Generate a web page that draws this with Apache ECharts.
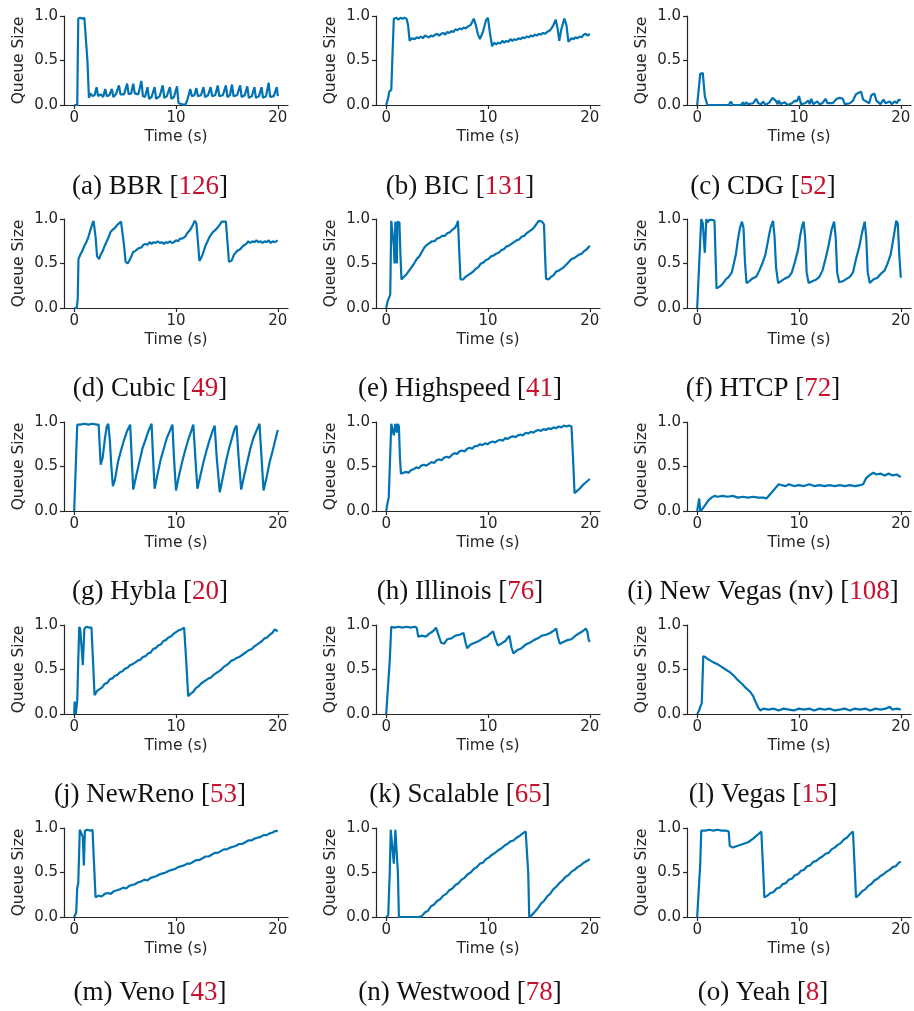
<!DOCTYPE html>
<html>
<head>
<meta charset="utf-8">
<script src="https://cdn.jsdelivr.net/npm/echarts@6/dist/echarts.min.js"></script>
<style>
html,body{margin:0;padding:0;background:#fff;}
#chart{width:914px;height:1011px;}
</style>
</head>
<body>
<div id="chart"></div>
<script>
// ---- data (time in s, normalized queue size) ----
const captions = ['(a) BBR','(b) BIC','(c) CDG','(d) Cubic','(e) Highspeed','(f) HTCP','(g) Hybla','(h) Illinois','(i) New Vegas (nv)','(j) NewReno','(k) Scalable','(l) Vegas','(m) Veno','(n) Westwood','(o) Yeah'];
const refs = ['126','131','52','49','41','72','20','76','108','53','65','15','43','78','8'];
const xTicks = [0, 10, 20];
const yTicks = [0, 0.5, 1];

const bbr = [[0,0],[0.3,0],[0.4,0.97],[0.6,0.98],[0.8,0.97],[1.0,0.98],[1.15,0.98],[1.3,0.5],[1.45,0.08],[1.6,0.13],[1.8,0.1],[2.0,0.11],[2.2,0.2],[2.35,0.1],[2.6,0.12],[2.85,0.09],[3.05,0.18],[3.2,0.1],[3.45,0.11],[3.7,0.18],[3.85,0.09],[4.1,0.12],[4.4,0.22],[4.55,0.12],[4.9,0.12],[5.2,0.24],[5.35,0.12],[5.6,0.13],[5.8,0.24],[5.95,0.13],[6.3,0.12],[6.6,0.27],[6.75,0.1],[6.95,0.09],[7.2,0.2],[7.35,0.07],[7.6,0.09],[7.9,0.2],[8.05,0.07],[8.4,0.1],[8.7,0.22],[8.85,0.08],[9.1,0.1],[9.4,0.2],[9.55,0.07],[9.8,0.09],[10.1,0.21],[10.25,0.02],[10.4,0.0],[10.9,0.0],[11.1,0.05],[11.4,0.18],[11.55,0.1],[11.8,0.11],[12.0,0.19],[12.15,0.1],[12.45,0.11],[12.7,0.2],[12.85,0.09],[13.15,0.11],[13.4,0.2],[13.55,0.1],[13.85,0.11],[14.1,0.22],[14.25,0.1],[14.6,0.11],[14.9,0.22],[15.05,0.09],[15.3,0.11],[15.5,0.23],[15.65,0.1],[16.0,0.11],[16.3,0.22],[16.45,0.09],[16.75,0.11],[17.0,0.21],[17.15,0.08],[17.45,0.1],[17.7,0.2],[17.85,0.08],[18.15,0.1],[18.4,0.2],[18.55,0.08],[18.85,0.1],[19.1,0.25],[19.25,0.09],[19.6,0.1],[19.9,0.2],[20.0,0.1]];
const bic = [[0,0],[0.2,0.08],[0.3,0.15],[0.5,0.17],[0.6,0.5],[0.75,0.97],[0.9,0.95],[1.0,0.98],[1.2,0.96],[1.4,0.98],[1.6,0.97],[1.8,0.98],[2.0,0.97],[2.15,0.9],[2.3,0.72],[2.5,0.75],[2.8,0.74],[3.0,0.76],[3.2,0.75],[3.4,0.77],[3.6,0.75],[3.8,0.78],[4.0,0.77],[4.2,0.76],[4.4,0.78],[4.6,0.77],[4.8,0.79],[5.0,0.8],[5.2,0.78],[5.4,0.8],[5.6,0.81],[5.8,0.79],[6.0,0.82],[6.2,0.81],[6.4,0.83],[6.6,0.82],[6.8,0.85],[7.0,0.84],[7.2,0.86],[7.4,0.85],[7.6,0.87],[7.8,0.86],[8.0,0.88],[8.3,0.9],[8.6,0.97],[8.8,0.9],[9.0,0.8],[9.2,0.74],[9.5,0.82],[9.8,0.95],[10.0,0.98],[10.2,0.8],[10.4,0.66],[10.6,0.7],[10.8,0.68],[11.0,0.7],[11.2,0.69],[11.4,0.72],[11.6,0.7],[11.8,0.72],[12.0,0.71],[12.2,0.74],[12.4,0.72],[12.6,0.74],[12.8,0.73],[13.0,0.75],[13.2,0.74],[13.4,0.76],[13.6,0.75],[13.8,0.77],[14.0,0.76],[14.2,0.78],[14.4,0.77],[14.6,0.79],[14.8,0.78],[15.0,0.8],[15.2,0.79],[15.4,0.81],[15.6,0.8],[15.8,0.82],[16.1,0.84],[16.4,0.89],[16.65,0.96],[16.85,0.85],[17.0,0.72],[17.2,0.85],[17.5,0.97],[17.7,0.9],[17.9,0.71],[18.2,0.75],[18.4,0.74],[18.6,0.76],[18.8,0.75],[19.0,0.77],[19.2,0.76],[19.4,0.79],[19.6,0.8],[19.8,0.78],[20.0,0.8]];
const cdg = [[0,0],[0.15,0],[0.3,0.35],[0.55,0.36],[0.75,0.1],[1.0,0],[3.1,0],[3.3,0.04],[3.5,0],[4.3,0],[4.5,0.03],[4.65,0],[4.8,0.03],[5.0,0.01],[5.5,0.02],[5.8,0.07],[6.0,0.02],[6.3,0.01],[6.5,0.04],[6.7,0],[7.1,0.03],[7.4,0.08],[7.7,0.05],[7.9,0.01],[8.0,0.05],[8.2,0.01],[8.6,0.03],[8.9,0],[9.3,0.02],[9.6,0.05],[9.8,0.04],[10.0,0.1],[10.2,0.01],[10.6,0.02],[10.9,0.05],[11.05,0.01],[11.2,0.07],[11.4,0.01],[11.8,0.04],[12.0,0.01],[12.3,0.02],[12.6,0.07],[12.8,0.02],[13.3,0.02],[13.7,0.07],[14.0,0.08],[14.3,0.07],[14.5,0.01],[15.0,0.02],[15.3,0.05],[15.6,0.12],[15.9,0.14],[16.1,0.15],[16.3,0.06],[16.6,0.04],[16.9,0.02],[17.1,0.11],[17.4,0.13],[17.6,0.05],[17.8,0.03],[18.0,0.01],[18.3,0.06],[18.5,0.02],[18.9,0.04],[19.1,0.01],[19.4,0.04],[19.6,0.02],[19.8,0.06],[20.0,0.05]];
const cubic = [[0,0],[0.25,0],[0.35,0.1],[0.42,0.55],[0.6,0.6],[0.8,0.64],[1.0,0.7],[1.2,0.74],[1.4,0.8],[1.6,0.88],[1.8,0.95],[1.9,0.98],[2.0,0.97],[2.1,0.8],[2.25,0.58],[2.45,0.55],[2.6,0.6],[2.8,0.64],[3.0,0.7],[3.2,0.75],[3.4,0.8],[3.6,0.86],[3.8,0.88],[4.0,0.9],[4.2,0.93],[4.4,0.95],[4.6,0.97],[4.75,0.96],[4.9,0.7],[5.05,0.52],[5.25,0.5],[5.5,0.55],[5.8,0.63],[6.0,0.64],[6.3,0.67],[6.6,0.68],[6.8,0.71],[7.0,0.72],[7.2,0.71],[7.4,0.74],[7.6,0.72],[7.8,0.74],[8.0,0.73],[8.2,0.75],[8.4,0.73],[8.6,0.74],[8.8,0.72],[9.0,0.74],[9.2,0.73],[9.4,0.75],[9.6,0.73],[9.8,0.74],[10.0,0.76],[10.2,0.75],[10.4,0.78],[10.6,0.78],[10.9,0.8],[11.1,0.84],[11.4,0.88],[11.6,0.92],[11.85,0.98],[12.0,0.95],[12.15,0.75],[12.3,0.53],[12.5,0.57],[12.7,0.63],[12.9,0.7],[13.1,0.75],[13.3,0.8],[13.6,0.85],[13.9,0.88],[14.2,0.92],[14.5,0.97],[14.9,0.97],[15.05,0.75],[15.2,0.52],[15.45,0.53],[15.7,0.6],[16.0,0.64],[16.3,0.66],[16.6,0.7],[16.9,0.72],[17.1,0.75],[17.3,0.73],[17.5,0.75],[17.7,0.74],[17.9,0.76],[18.1,0.74],[18.3,0.75],[18.5,0.73],[18.7,0.75],[18.9,0.74],[19.1,0.76],[19.3,0.73],[19.5,0.75],[19.7,0.74],[20.0,0.76]];
const highspeed = [[0,0],[0.15,0.08],[0.3,0.12],[0.4,0.15],[0.5,0.98],[0.6,0.97],[0.75,0.7],[0.82,0.5],[0.9,0.97],[1.0,0.95],[1.05,0.5],[1.1,0.97],[1.2,0.97],[1.3,0.96],[1.4,0.6],[1.5,0.32],[1.75,0.35],[2.0,0.38],[2.25,0.42],[2.5,0.46],[2.75,0.5],[3.0,0.55],[3.25,0.58],[3.5,0.63],[3.75,0.68],[4.0,0.71],[4.25,0.73],[4.5,0.75],[4.75,0.75],[5.0,0.78],[5.25,0.79],[5.5,0.81],[5.75,0.81],[6.0,0.84],[6.25,0.85],[6.5,0.88],[6.75,0.9],[6.95,0.94],[7.05,0.98],[7.15,0.7],[7.3,0.32],[7.55,0.32],[7.8,0.35],[8.05,0.37],[8.3,0.39],[8.55,0.41],[8.8,0.44],[9.05,0.46],[9.3,0.5],[9.55,0.51],[9.8,0.54],[10.05,0.55],[10.3,0.58],[10.55,0.59],[10.8,0.61],[11.05,0.62],[11.3,0.65],[11.55,0.66],[11.8,0.69],[12.05,0.7],[12.3,0.72],[12.55,0.74],[12.8,0.76],[13.05,0.77],[13.3,0.8],[13.55,0.81],[13.8,0.84],[14.05,0.86],[14.3,0.88],[14.55,0.91],[14.8,0.95],[15.0,0.98],[15.3,0.97],[15.5,0.94],[15.6,0.6],[15.7,0.33],[15.95,0.32],[16.2,0.35],[16.45,0.37],[16.7,0.41],[16.95,0.42],[17.2,0.44],[17.45,0.46],[17.7,0.49],[17.95,0.52],[18.2,0.55],[18.45,0.56],[18.7,0.58],[18.95,0.6],[19.2,0.61],[19.45,0.64],[19.7,0.66],[20.0,0.7]];
const htcp = [[0,0],[0.1,0.02],[0.4,1.0],[0.55,0.95],[0.75,0.62],[0.9,1.0],[1.0,0.96],[1.2,0.99],[1.5,0.99],[1.7,0.98],[1.8,0.6],[1.9,0.22],[2.2,0.24],[2.5,0.27],[2.8,0.32],[3.1,0.35],[3.4,0.4],[3.6,0.5],[3.8,0.6],[4.0,0.77],[4.2,0.9],[4.4,0.97],[4.55,0.9],[4.7,0.5],[4.85,0.28],[5.1,0.3],[5.4,0.33],[5.8,0.35],[6.1,0.42],[6.4,0.5],[6.7,0.6],[7.0,0.78],[7.2,0.9],[7.45,0.98],[7.6,0.8],[7.75,0.45],[7.95,0.28],[8.2,0.3],[8.6,0.33],[9.0,0.35],[9.3,0.4],[9.6,0.52],[9.9,0.65],[10.1,0.8],[10.3,0.92],[10.45,0.97],[10.6,0.8],[10.75,0.4],[10.95,0.28],[11.3,0.3],[11.7,0.32],[12.0,0.35],[12.3,0.42],[12.6,0.55],[12.9,0.7],[13.2,0.88],[13.45,0.97],[13.6,0.8],[13.75,0.4],[13.95,0.29],[14.3,0.3],[14.7,0.33],[15.0,0.35],[15.3,0.4],[15.6,0.55],[15.9,0.68],[16.2,0.85],[16.45,0.97],[16.6,0.8],[16.75,0.4],[16.95,0.28],[17.3,0.32],[17.7,0.34],[18.0,0.38],[18.4,0.42],[18.7,0.5],[19.0,0.6],[19.3,0.8],[19.55,0.98],[19.7,0.95],[19.85,0.6],[20.0,0.34]];
const hybla = [[0,0],[0.3,0.97],[0.6,0.97],[1.0,0.98],[1.4,0.97],[1.8,0.98],[2.2,0.97],[2.4,0.97],[2.5,0.75],[2.6,0.52],[2.8,0.6],[3.0,0.8],[3.2,0.95],[3.35,0.98],[3.5,0.8],[3.65,0.5],[3.8,0.28],[4.0,0.35],[4.3,0.55],[4.6,0.68],[4.9,0.8],[5.2,0.9],[5.5,0.97],[5.65,0.6],[5.8,0.24],[6.1,0.4],[6.4,0.55],[6.7,0.7],[7.0,0.8],[7.3,0.9],[7.6,0.98],[7.75,0.6],[7.9,0.25],[8.2,0.42],[8.5,0.58],[8.8,0.7],[9.1,0.82],[9.4,0.9],[9.65,0.97],[9.8,0.6],[10.0,0.23],[10.3,0.4],[10.6,0.55],[10.9,0.68],[11.2,0.8],[11.5,0.9],[11.7,0.97],[11.9,0.6],[12.1,0.25],[12.4,0.4],[12.7,0.55],[13.0,0.68],[13.3,0.8],[13.6,0.9],[13.8,0.96],[14.0,0.6],[14.3,0.21],[14.6,0.38],[14.9,0.55],[15.2,0.7],[15.5,0.82],[15.75,0.92],[15.95,0.96],[16.15,0.6],[16.4,0.24],[16.7,0.4],[17.0,0.55],[17.3,0.7],[17.6,0.82],[17.9,0.9],[18.2,0.98],[18.4,0.6],[18.6,0.23],[18.9,0.38],[19.2,0.55],[19.5,0.68],[19.8,0.82],[20.0,0.91]];
const illinois = [[0,0],[0.15,0.1],[0.25,0.15],[0.4,0.17],[0.5,0.98],[0.6,0.97],[0.75,0.85],[0.9,0.98],[1.0,0.96],[1.05,0.88],[1.15,0.98],[1.25,0.95],[1.35,0.6],[1.45,0.42],[1.7,0.43],[1.95,0.44],[2.2,0.43],[2.45,0.46],[2.7,0.47],[2.95,0.49],[3.2,0.48],[3.45,0.51],[3.7,0.52],[3.95,0.51],[4.2,0.53],[4.45,0.55],[4.7,0.54],[4.95,0.57],[5.2,0.58],[5.45,0.57],[5.7,0.6],[5.95,0.61],[6.2,0.6],[6.45,0.63],[6.7,0.65],[6.95,0.64],[7.2,0.67],[7.45,0.68],[7.7,0.67],[7.95,0.7],[8.2,0.71],[8.45,0.7],[8.7,0.73],[8.95,0.73],[9.2,0.75],[9.45,0.74],[9.7,0.76],[9.95,0.75],[10.2,0.77],[10.45,0.78],[10.7,0.77],[10.95,0.79],[11.2,0.8],[11.45,0.79],[11.7,0.82],[11.95,0.81],[12.2,0.83],[12.45,0.84],[12.7,0.83],[12.95,0.85],[13.2,0.86],[13.45,0.85],[13.7,0.88],[13.95,0.87],[14.2,0.89],[14.45,0.88],[14.7,0.9],[14.95,0.91],[15.2,0.9],[15.45,0.92],[15.7,0.91],[15.95,0.93],[16.2,0.92],[16.45,0.94],[16.7,0.93],[16.95,0.95],[17.2,0.94],[17.45,0.96],[17.7,0.95],[17.95,0.96],[18.2,0.95],[18.35,0.6],[18.5,0.2],[18.7,0.22],[19.0,0.25],[19.3,0.29],[19.6,0.32],[19.8,0.34],[20.0,0.36]];
const newVegas = [[0,0],[0.15,0.02],[0.2,0.14],[0.3,0.0],[0.5,0.02],[0.8,0.07],[1.1,0.12],[1.4,0.15],[1.7,0.17],[2.0,0.16],[2.5,0.17],[3.0,0.16],[3.5,0.17],[4.0,0.15],[4.5,0.16],[5.0,0.15],[5.5,0.16],[6.0,0.15],[6.5,0.15],[6.8,0.14],[7.1,0.18],[7.4,0.22],[7.7,0.26],[8.0,0.3],[8.3,0.29],[8.7,0.28],[9.0,0.3],[9.5,0.28],[10.0,0.29],[10.5,0.28],[11.0,0.3],[11.5,0.28],[12.0,0.29],[12.5,0.28],[13.0,0.29],[13.5,0.28],[14.0,0.29],[14.5,0.28],[15.0,0.29],[15.5,0.28],[16.0,0.29],[16.3,0.3],[16.6,0.37],[16.9,0.4],[17.3,0.43],[17.6,0.41],[18.0,0.42],[18.4,0.4],[18.8,0.42],[19.2,0.4],[19.6,0.41],[20.0,0.38]];
const newReno = [[0,0],[0.05,0.14],[0.15,0.0],[0.3,0.15],[0.4,0.6],[0.5,0.98],[0.6,0.95],[0.7,0.97],[0.85,0.55],[1.0,0.96],[1.2,0.98],[1.5,0.97],[1.7,0.97],[1.85,0.6],[2.0,0.21],[2.25,0.26],[2.5,0.28],[2.75,0.3],[3.0,0.34],[3.25,0.35],[3.5,0.39],[3.75,0.4],[4.0,0.43],[4.25,0.44],[4.5,0.47],[4.75,0.48],[5.0,0.51],[5.25,0.52],[5.5,0.55],[5.75,0.56],[6.0,0.58],[6.25,0.6],[6.5,0.61],[6.75,0.64],[7.0,0.65],[7.25,0.68],[7.5,0.69],[7.75,0.73],[8.0,0.74],[8.25,0.77],[8.5,0.78],[8.75,0.82],[9.0,0.83],[9.25,0.86],[9.5,0.87],[9.75,0.9],[10.0,0.92],[10.25,0.94],[10.5,0.95],[10.8,0.97],[11.0,0.6],[11.2,0.2],[11.45,0.23],[11.7,0.25],[11.95,0.29],[12.2,0.31],[12.45,0.34],[12.7,0.36],[12.95,0.38],[13.2,0.4],[13.45,0.41],[13.7,0.44],[13.95,0.46],[14.2,0.48],[14.45,0.5],[14.7,0.53],[14.95,0.55],[15.2,0.57],[15.45,0.6],[15.7,0.61],[15.95,0.63],[16.2,0.64],[16.45,0.66],[16.7,0.68],[16.95,0.7],[17.2,0.72],[17.45,0.73],[17.7,0.76],[17.95,0.78],[18.2,0.8],[18.45,0.82],[18.7,0.85],[18.95,0.86],[19.2,0.89],[19.45,0.91],[19.7,0.95],[20.0,0.93]];
const scalable = [[0,0],[0.1,0],[0.35,0.6],[0.5,0.98],[0.8,0.97],[1.2,0.98],[1.6,0.97],[2.0,0.98],[2.4,0.97],[2.8,0.98],[3.0,0.97],[3.15,0.87],[3.5,0.88],[3.9,0.87],[4.2,0.9],[4.6,0.93],[4.9,0.97],[5.1,0.9],[5.4,0.8],[5.7,0.79],[6.0,0.84],[6.4,0.85],[6.8,0.88],[7.2,0.89],[7.6,0.91],[7.8,0.8],[7.95,0.74],[8.3,0.78],[8.7,0.8],[9.1,0.82],[9.5,0.85],[9.9,0.87],[10.2,0.9],[10.5,0.93],[10.7,0.85],[10.95,0.77],[11.3,0.79],[11.7,0.82],[12.1,0.88],[12.3,0.75],[12.5,0.68],[12.9,0.72],[13.3,0.74],[13.7,0.78],[14.1,0.8],[14.5,0.83],[14.9,0.85],[15.3,0.88],[15.7,0.89],[16.1,0.91],[16.5,0.94],[16.7,0.96],[16.85,0.87],[17.05,0.79],[17.4,0.81],[17.8,0.83],[18.2,0.84],[18.6,0.88],[19.0,0.91],[19.3,0.93],[19.6,0.96],[19.75,0.93],[19.9,0.83],[20.0,0.81]];
const vegas = [[0,0],[0.15,0.03],[0.3,0.08],[0.45,0.12],[0.6,0.65],[0.8,0.64],[1.0,0.62],[1.3,0.6],[1.6,0.58],[2.0,0.56],[2.4,0.53],[2.8,0.5],[3.2,0.47],[3.6,0.43],[4.0,0.38],[4.4,0.34],[4.8,0.29],[5.2,0.25],[5.5,0.2],[5.8,0.12],[6.0,0.07],[6.2,0.04],[6.5,0.06],[7.0,0.05],[7.5,0.06],[8.0,0.04],[8.5,0.06],[9.0,0.05],[9.5,0.04],[10.0,0.06],[10.5,0.05],[11.0,0.06],[11.5,0.04],[12.0,0.06],[12.5,0.05],[13.0,0.06],[13.5,0.04],[14.0,0.05],[14.5,0.06],[15.0,0.04],[15.5,0.06],[16.0,0.05],[16.5,0.06],[17.0,0.04],[17.5,0.06],[18.0,0.05],[18.5,0.06],[18.9,0.08],[19.2,0.05],[19.6,0.06],[20.0,0.05]];
const veno = [[0,0],[0.2,0.05],[0.3,0.33],[0.4,0.38],[0.55,0.98],[0.7,0.97],[0.85,0.9],[0.95,0.58],[1.05,0.97],[1.3,0.98],[1.6,0.97],[1.8,0.98],[1.95,0.6],[2.1,0.22],[2.4,0.24],[2.7,0.23],[3.0,0.26],[3.3,0.27],[3.6,0.26],[3.9,0.29],[4.2,0.3],[4.5,0.31],[4.8,0.33],[5.1,0.32],[5.4,0.35],[5.7,0.36],[6.0,0.37],[6.3,0.39],[6.6,0.4],[6.9,0.42],[7.2,0.41],[7.5,0.44],[7.8,0.45],[8.1,0.46],[8.4,0.48],[8.7,0.49],[9.0,0.5],[9.3,0.52],[9.6,0.53],[9.9,0.54],[10.2,0.56],[10.5,0.57],[10.8,0.58],[11.1,0.6],[11.4,0.6],[11.7,0.62],[12.0,0.64],[12.3,0.64],[12.6,0.66],[12.9,0.68],[13.2,0.68],[13.5,0.7],[13.8,0.72],[14.1,0.72],[14.4,0.74],[14.7,0.76],[15.0,0.76],[15.3,0.78],[15.6,0.79],[15.9,0.8],[16.2,0.82],[16.5,0.82],[16.8,0.84],[17.1,0.86],[17.4,0.86],[17.7,0.88],[18.0,0.89],[18.3,0.9],[18.6,0.92],[18.9,0.92],[19.2,0.94],[19.5,0.95],[19.8,0.97],[20.0,0.96]];
const westwood = [[0,0],[0.2,0.02],[0.35,0.5],[0.45,0.98],[0.6,0.97],[0.75,0.6],[0.9,0.98],[1.05,0.97],[1.15,0.5],[1.25,0.0],[3.2,0.0],[3.5,0.01],[3.8,0.05],[4.1,0.07],[4.4,0.12],[4.7,0.14],[5.0,0.18],[5.3,0.2],[5.6,0.24],[5.9,0.26],[6.2,0.3],[6.5,0.32],[6.8,0.36],[7.1,0.38],[7.4,0.42],[7.7,0.44],[8.0,0.48],[8.3,0.5],[8.6,0.54],[8.9,0.56],[9.2,0.6],[9.5,0.61],[9.8,0.65],[10.1,0.67],[10.4,0.7],[10.7,0.72],[11.0,0.75],[11.3,0.77],[11.6,0.8],[11.9,0.82],[12.2,0.85],[12.5,0.86],[12.8,0.89],[13.1,0.91],[13.4,0.94],[13.7,0.96],[13.85,0.97],[13.95,0.5],[14.05,0.0],[14.3,0.02],[14.6,0.06],[14.9,0.1],[15.2,0.15],[15.5,0.18],[15.8,0.23],[16.1,0.26],[16.4,0.31],[16.7,0.34],[17.0,0.38],[17.3,0.41],[17.6,0.45],[17.9,0.47],[18.2,0.51],[18.5,0.53],[18.8,0.56],[19.1,0.58],[19.4,0.61],[19.7,0.63],[20.0,0.65]];
const yeah = [[0,0],[0.1,0.02],[0.3,0.6],[0.4,0.97],[0.8,0.97],[1.2,0.98],[1.6,0.97],[2.0,0.98],[2.4,0.97],[2.8,0.97],[3.1,0.96],[3.2,0.8],[3.5,0.78],[4.0,0.8],[4.5,0.82],[5.0,0.84],[5.5,0.88],[6.0,0.93],[6.3,0.96],[6.45,0.6],[6.6,0.22],[6.9,0.24],[7.2,0.27],[7.5,0.28],[7.8,0.32],[8.1,0.33],[8.4,0.37],[8.7,0.38],[9.0,0.42],[9.3,0.43],[9.6,0.47],[9.9,0.48],[10.2,0.52],[10.5,0.53],[10.8,0.57],[11.1,0.58],[11.4,0.62],[11.7,0.63],[12.0,0.66],[12.3,0.68],[12.6,0.71],[12.9,0.72],[13.2,0.76],[13.5,0.78],[13.8,0.81],[14.1,0.83],[14.4,0.87],[14.7,0.89],[15.0,0.93],[15.3,0.96],[15.45,0.6],[15.6,0.22],[15.9,0.25],[16.2,0.29],[16.5,0.31],[16.8,0.35],[17.1,0.37],[17.4,0.41],[17.7,0.43],[18.0,0.46],[18.3,0.48],[18.6,0.51],[18.9,0.53],[19.2,0.56],[19.5,0.57],[19.8,0.61],[20.0,0.62]];

const seriesData = [bbr, bic, cdg, cubic, highspeed, htcp, hybla, illinois, newVegas, newReno, scalable, vegas, veno, westwood, yeah];

// ---- layout ----
const colLeft = [64, 376, 687];
const colCenter = [150, 460, 763];
const rowTop = [16, 219, 422, 625, 828];
const capCenter = [187, 389, 592, 795, 993];
const plotW = 224, plotH = 89;
const axisColor = '#262626';
const lineColor = '#0173b2';
const sans = 'DejaVu Sans';
const serif = 'Liberation Serif';

const option = { animation: false, backgroundColor: '#fff', grid: [], xAxis: [], yAxis: [], series: [], title: [] };

seriesData.forEach((d, i) => {
  const col = i % 3, row = Math.floor(i / 3);
  option.grid.push({ left: colLeft[col], top: rowTop[row], width: plotW, height: plotH, containLabel: false });
  option.xAxis.push({
    gridIndex: i, type: 'value', min: -1, max: 21,
    axisLine: { show: true, onZero: false, lineStyle: { color: axisColor, width: 1.2 } },
    axisTick: { show: true, customValues: xTicks, length: 4, lineStyle: { color: axisColor, width: 1.2 } },
    axisLabel: { customValues: xTicks, fontFamily: sans, fontSize: 15, color: axisColor, margin: 6 },
    splitLine: { show: false },
    name: 'Time (s)', nameLocation: 'middle', nameGap: 24,
    nameTextStyle: { fontFamily: sans, fontSize: 15.5, color: axisColor }
  });
  option.yAxis.push({
    gridIndex: i, type: 'value', min: 0, max: 1, interval: 0.5,
    axisLine: { show: true, onZero: false, lineStyle: { color: axisColor, width: 1.2 } },
    axisTick: { show: true, length: 4, lineStyle: { color: axisColor, width: 1.2 } },
    axisLabel: { fontFamily: sans, fontSize: 15, color: axisColor, margin: 6, formatter: v => v.toFixed(1) },
    splitLine: { show: false },
    name: 'Queue Size', nameLocation: 'middle', nameGap: 37,
    nameTextStyle: { fontFamily: sans, fontSize: 15.5, color: axisColor }
  });
  option.series.push({
    type: 'line', xAxisIndex: i, yAxisIndex: i, data: d,
    showSymbol: false, symbol: 'none',
    lineStyle: { width: 2.2, color: lineColor }, itemStyle: { color: lineColor }
  });
  option.title.push({
    text: '{t|' + captions[i] + ' [}{r|' + refs[i] + '}{t|]}',
    left: colCenter[col], top: capCenter[row] - 15, textAlign: 'center', padding: 0,
    textStyle: {
      fontWeight: 'normal',
      rich: {
        t: { fontFamily: serif, fontSize: 27, fontWeight: 'normal', color: '#111', lineHeight: 30 },
        r: { fontFamily: serif, fontSize: 27, fontWeight: 'normal', color: '#c8102e', lineHeight: 30 }
      }
    }
  });
});

const chart = echarts.init(document.getElementById('chart'), null, { renderer: 'canvas' });
chart.setOption(option);
</script>
</body>
</html>
